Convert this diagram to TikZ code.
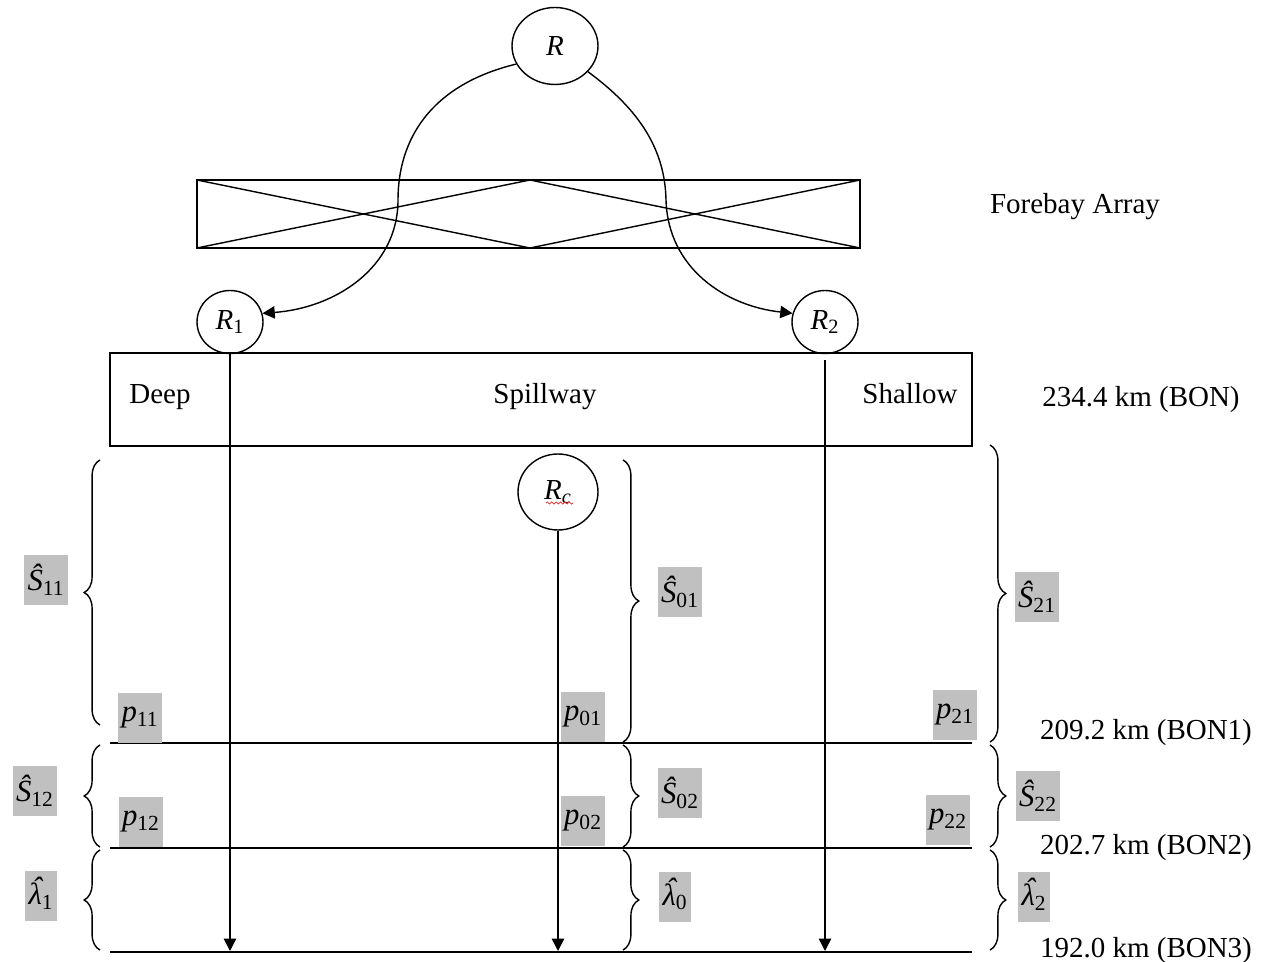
\documentclass[tikz,border=0pt]{standalone}
\usepackage{fontspec}
\setmainfont{Liberation Serif}
\usetikzlibrary{shapes.geometric, arrows.meta, decorations.pathreplacing, decorations.pathmorphing}
\definecolor{labgray}{RGB}{192,192,192}
\definecolor{wavyred}{RGB}{225,40,40}
\newcommand{\shat}[1]{{\itshape Ŝ}\textsubscript{#1}}
\newcommand{\pest}[1]{{\itshape p}\textsubscript{#1}}
\newcommand{\lhat}[1]{{\itshape\ooalign{λ\cr\hidewidth\kern0.12em\raisebox{0.2em}{ˆ}\hidewidth\cr}}\textsubscript{#1}}

\begin{document}
\begin{tikzpicture}[
  x=0.02cm, y=-0.02cm,
  every node/.style={font=\fontsize{16.5}{19}\selectfont},
  site/.style={draw, ellipse, line width=0.8pt, inner sep=0pt},
  est/.style={fill=labgray, inner sep=2pt, minimum height=1.02cm, font=\fontsize{17.5}{20}\selectfont},
  arr/.style={-{Triangle[length=7pt, width=7pt]}, line width=0.8pt},
  brc/.style={decorate, decoration={brace, amplitude=9pt}, line width=0.8pt},
  seg/.style={line width=1.2pt}
]
  \useasboundingbox (0,0) rectangle (1265,962);

  % Release and forebay array
  \node[site, minimum width=1.72cm, minimum height=1.54cm] (R) at (555,46) {\itshape R};
  \draw[line width=0.8pt] (197,180) rectangle (860,248);
  \draw[line width=0.8pt] (197,180) -- (530,248) -- (860,180);
  \draw[line width=0.8pt] (197,248) -- (530,180) -- (860,248);
  \node (fore) at (1075,207) {Forebay Array};

  % Dam passage
  \node[site, minimum width=1.32cm, minimum height=1.26cm] (R1) at (230,322) {{\itshape R}\textsubscript{1}};
  \node[site, minimum width=1.32cm, minimum height=1.26cm] (R2) at (825,322) {{\itshape R}\textsubscript{2}};
  \node[draw, line width=0.8pt, minimum width=17.24cm, minimum height=1.86cm] (spill) at (541,399.5) {};
  \node[anchor=base] (sw) at (545,404) {Spillway};
  \node[anchor=base] (deep) at (160,404) {Deep};
  \node[anchor=base] (shal) at (910,404) {Shallow};
  \node[anchor=base] (bon) at (1141,407) {234.4 km (BON)};

  \draw[arr] (R.205) .. controls (430,85) and (398,140) .. (398,200) .. controls (398,268) and (335,308) .. (R1.15);
  \draw[arr] (R.-38) .. controls (640,110) and (665,150) .. (666,200) .. controls (668,268) and (725,306) .. (R2.165);

  % Control release
  \node[site, minimum width=1.6cm, minimum height=1.52cm] (Rc) at (558,492) {{\itshape R}\textsubscript{\itshape c}};
  \draw[wavyred, line width=0.4pt, decorate, decoration={snake, amplitude=0.6pt, segment length=2.5pt}] (546,503) -- (573,503);

  % Downstream arrays
  \foreach \y in {743,848,952}
    \draw[seg] (110,\y) -- (972,\y);
  \coordinate (bot) at (0,951);
  \draw[arr] (R1.south) -- (R1.south |- bot);
  \draw[arr] (Rc.south) -- (Rc.south |- bot);
  \draw[arr] (R2.south) ++(0,6) -- (R2.south |- bot);

  \node[anchor=base] (bon1) at (1146,740) {209.2 km (BON1)};
  \node[anchor=base] (bon2) at (1146,854) {202.7 km (BON2)};
  \node[anchor=base] (bon3) at (1146,957) {192.0 km (BON3)};

  % Braces
  \foreach \a/\b in {725/460, 847/745, 950/850}
    \draw[brc] (100,\a) -- (100,\b);
  \foreach \a/\b in {460/742, 745/847, 850/950}
    \draw[brc] (623,\a) -- (623,\b);
  \foreach \a/\b in {445/742, 745/847, 850/950}
    \draw[brc] (990,\a) -- (990,\b);

  % Estimates
  \node[est] (s11) at (46,580) {\shat{11}};
  \node[est] (s12) at (35,791) {\shat{12}};
  \node[est] (l1) at (41,896) {\lhat{1}};
  \node[est] (p11) at (140,718) {\pest{11}};
  \node[est] (p12) at (141,822) {\pest{12}};

  \node[est] (s01) at (680,592) {\shat{01}};
  \node[est] (s02) at (680,793) {\shat{02}};
  \node[est] (l0) at (675,897) {\lhat{0}};
  \node[est] (p01) at (583,717) {\pest{01}};
  \node[est] (p02) at (583,821) {\pest{02}};

  \node[est] (s21) at (1037,597) {\shat{21}};
  \node[est] (s22) at (1038,796) {\shat{22}};
  \node[est] (l2) at (1034,897) {\lhat{2}};
  \node[est] (p21) at (955,715) {\pest{21}};
  \node[est] (p22) at (948,820) {\pest{22}};
\end{tikzpicture}
\end{document}
